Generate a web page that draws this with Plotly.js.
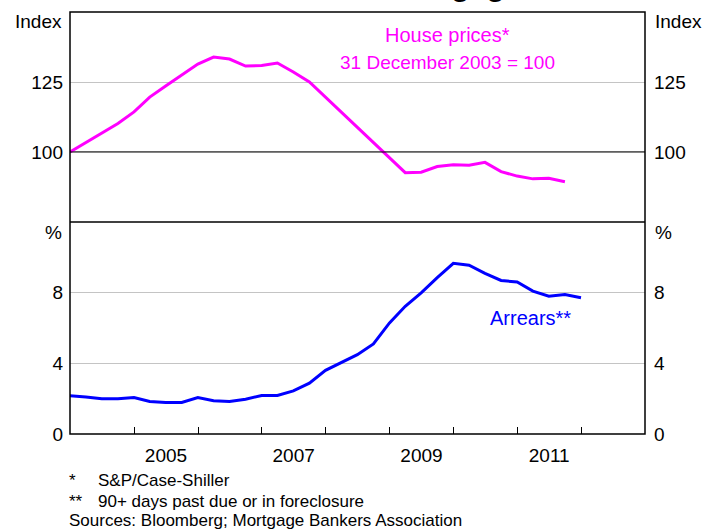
<!DOCTYPE html>
<html>
<head>
<meta charset="utf-8">
<script src="https://cdn.plot.ly/plotly-3.0.1.min.js"></script>
<style>html,body{margin:0;padding:0;background:#fff;}#chart{width:707px;height:530px;}</style>
</head>
<body>
<div id="chart"></div>
<script>
// Quarter-end dates
const houseDates = ['2003-12-31','2004-03-31','2004-06-30','2004-09-30','2004-12-31','2005-03-31','2005-06-30','2005-09-30','2005-12-31','2006-03-31','2006-06-30','2006-09-30','2006-12-31','2007-03-31','2007-06-30','2007-09-30','2007-12-31','2008-03-31','2008-06-30','2008-09-30','2008-12-31','2009-03-31','2009-06-30','2009-09-30','2009-12-31','2010-03-31','2010-06-30','2010-09-30','2010-12-31','2011-03-31','2011-06-30','2011-09-30'];
const housePrices = [100,103.4,106.7,110.2,114.3,119.6,123.6,127.5,131.4,133.9,133.2,130.7,130.9,131.8,128.6,125.0,119.6,113.9,108.9,103.2,97.9,92.6,92.8,94.8,95.4,95.3,96.3,93.0,91.4,90.4,90.6,89.4];

const arrearsDates = ['2003-12-31','2004-03-31','2004-06-30','2004-09-30','2004-12-31','2005-03-31','2005-06-30','2005-09-30','2005-12-31','2006-03-31','2006-06-30','2006-09-30','2006-12-31','2007-03-31','2007-06-30','2007-09-30','2007-12-31','2008-03-31','2008-06-30','2008-09-30','2008-12-31','2009-03-31','2009-06-30','2009-09-30','2009-12-31','2010-03-31','2010-06-30','2010-09-30','2010-12-31','2011-03-31','2011-06-30','2011-09-30','2011-12-31'];
const arrears = [2.16,2.10,1.99,1.99,2.06,1.84,1.78,1.78,2.06,1.88,1.84,1.97,2.18,2.18,2.44,2.88,3.60,4.05,4.49,5.10,6.29,7.23,7.99,8.85,9.66,9.55,9.09,8.69,8.60,8.09,7.80,7.90,7.71];

const xTickVals = ['2005-07-02','2007-07-02','2009-07-02','2011-07-02'];
const xTickText = ['2005','2007','2009','2011'];
const yearStarts = ['2005-01-01','2006-01-01','2007-01-01','2008-01-01','2009-01-01','2010-01-01','2011-01-01','2012-01-01'];
const topTicks = [100,125];
const bottomTicks = [0,4,8];

const FONT = 'Liberation Sans, Arial, sans-serif';
const split = 0.5024;

const traces = [
  {x: houseDates, y: housePrices, xaxis: 'x', yaxis: 'y2', type: 'scatter', mode: 'lines',
   line: {color: '#ff00ff', width: 3}, hoverinfo: 'skip'},
  {x: arrearsDates, y: arrears, xaxis: 'x', yaxis: 'y', type: 'scatter', mode: 'lines',
   line: {color: '#0000ff', width: 3}, hoverinfo: 'skip'},
  // empty carriers so the right-hand axes are drawn
  {x: [], y: [], xaxis: 'x', yaxis: 'y3', type: 'scatter', mode: 'lines', hoverinfo: 'skip'},
  {x: [], y: [], xaxis: 'x', yaxis: 'y4', type: 'scatter', mode: 'lines', hoverinfo: 'skip'}
];

const yCommon = {showline: false, zeroline: false, ticks: '', gridcolor: '#c4c4c4', gridwidth: 1,
  tickfont: {family: FONT, size: 19, color: '#000'}, ticklabelstandoff: 6, fixedrange: true, autorange: false};

const layout = {
  width: 707, height: 530,
  margin: {l: 70, r: 62, t: 12, b: 96},
  paper_bgcolor: '#fff', plot_bgcolor: '#fff',
  showlegend: false,
  font: {family: FONT, size: 19, color: '#000'},
  xaxis: {type: 'date', range: ['2003-12-31','2012-12-31'], anchor: 'y', autorange: false,
    tickmode: 'array', tickvals: xTickVals, ticktext: xTickText, ticks: '', showgrid: false,
    zeroline: false, showline: false, tickfont: {family: FONT, size: 19, color: '#000'},
    ticklabelstandoff: 8,
    minor: {tickmode: 'array', tickvals: yearStarts, ticks: 'inside', ticklen: 7, tickcolor: '#000', tickwidth: 1, showgrid: false}},
  yaxis: Object.assign({}, yCommon, {domain: [0, split], range: [0, 12], tickmode: 'array', tickvals: bottomTicks, anchor: 'x'}),
  yaxis2: Object.assign({}, yCommon, {domain: [split, 1], range: [75, 150], tickmode: 'array', tickvals: topTicks, anchor: 'x'}),
  yaxis3: Object.assign({}, yCommon, {overlaying: 'y2', side: 'right', range: [75, 150], tickmode: 'array', tickvals: topTicks, showgrid: false, anchor: 'x', ticklabelstandoff: 8}),
  yaxis4: Object.assign({}, yCommon, {overlaying: 'y', side: 'right', range: [0, 12], tickmode: 'array', tickvals: bottomTicks, showgrid: false, anchor: 'x', ticklabelstandoff: 8}),
  shapes: [
    {type: 'line', xref: 'paper', x0: 0, x1: 1, yref: 'y2', y0: 100, y1: 100, line: {color: '#000', width: 1}},
    {type: 'line', xref: 'paper', x0: 0, x1: 1, yref: 'paper', y0: split, y1: split, line: {color: '#000', width: 1.5}},
    {type: 'rect', xref: 'paper', x0: 0, x1: 1, yref: 'paper', y0: 0, y1: 1, line: {color: '#000', width: 1.5}, fillcolor: 'rgba(0,0,0,0)'}
  ],
  annotations: [
    {text: '<b>US Residential Mortgages</b>', xref: 'paper', yref: 'paper', x: 0.492, y: 1, xanchor: 'center', yanchor: 'bottom', yshift: 8, showarrow: false, font: {family: FONT, size: 30, color: '#000'}},
    {text: 'Index', xref: 'paper', yref: 'paper', x: 0, y: 1, xanchor: 'right', yanchor: 'middle', xshift: -6, yshift: -9, showarrow: false, font: {family: FONT, size: 19}},
    {text: 'Index', xref: 'paper', yref: 'paper', x: 1, y: 1, xanchor: 'left', yanchor: 'middle', xshift: 8, yshift: -9, showarrow: false, font: {family: FONT, size: 19}},
    {text: '%', xref: 'paper', yref: 'paper', x: 0, y: split, xanchor: 'right', yanchor: 'middle', xshift: -6, yshift: -11, showarrow: false, font: {family: FONT, size: 19}},
    {text: '%', xref: 'paper', yref: 'paper', x: 1, y: split, xanchor: 'left', yanchor: 'middle', xshift: 8, yshift: -11, showarrow: false, font: {family: FONT, size: 19}},
    {text: 'House prices*', xref: 'paper', yref: 'paper', x: 0.657, y: 1, xanchor: 'center', yanchor: 'middle', yshift: -23, showarrow: false, font: {family: FONT, size: 20, color: '#ff00ff'}},
    {text: '31 December 2003 = 100', xref: 'paper', yref: 'paper', x: 0.657, y: 1, xanchor: 'center', yanchor: 'middle', yshift: -50, showarrow: false, font: {family: FONT, size: 19, color: '#ff00ff'}},
    {text: 'Arrears**', xref: 'paper', yref: 'paper', x: 0.8, y: 0.2749, xanchor: 'center', yanchor: 'middle', showarrow: false, font: {family: FONT, size: 20, color: '#0000ff'}},
    {text: '*', xref: 'paper', yref: 'paper', x: 0, y: 0, xanchor: 'left', yanchor: 'middle', xshift: -3, yshift: -46, showarrow: false, font: {family: FONT, size: 17}},
    {text: 'S&P/Case-Shiller', xref: 'paper', yref: 'paper', x: 0, y: 0, xanchor: 'left', yanchor: 'middle', xshift: 26, yshift: -46, showarrow: false, font: {family: FONT, size: 17}},
    {text: '**', xref: 'paper', yref: 'paper', x: 0, y: 0, xanchor: 'left', yanchor: 'middle', xshift: -3, yshift: -67, showarrow: false, font: {family: FONT, size: 17}},
    {text: '90+ days past due or in foreclosure', xref: 'paper', yref: 'paper', x: 0, y: 0, xanchor: 'left', yanchor: 'middle', xshift: 26, yshift: -67, showarrow: false, font: {family: FONT, size: 17}},
    {text: 'Sources: Bloomberg; Mortgage Bankers Association', xref: 'paper', yref: 'paper', x: 0, y: 0, xanchor: 'left', yanchor: 'middle', xshift: -3, yshift: -86, showarrow: false, font: {family: FONT, size: 17}}
  ]
};

Plotly.newPlot('chart', traces, layout, {staticPlot: true, displayModeBar: false});
</script>
</body>
</html>
